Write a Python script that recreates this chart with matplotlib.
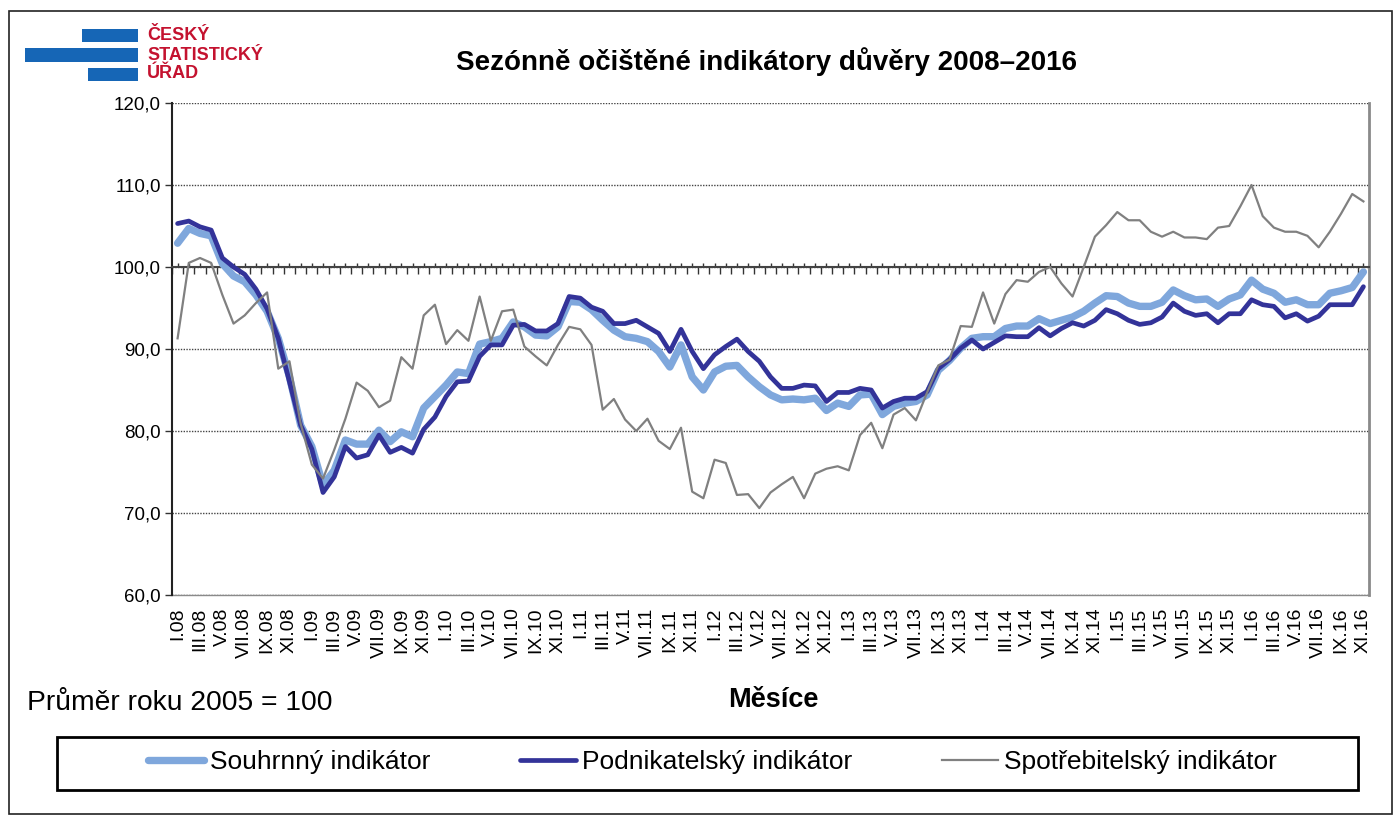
import numpy as np
import matplotlib
matplotlib.use('Agg')
import matplotlib.pyplot as plt
from matplotlib.patches import Rectangle
from matplotlib.ticker import FixedLocator, FuncFormatter

plt.rcParams['font.family'] = ['Liberation Sans', 'DejaVu Sans']

roman = ['I', 'II', 'III', 'IV', 'V', 'VI', 'VII', 'VIII', 'IX', 'X', 'XI', 'XII']
years = ['08', '09', '10', '11', '12', '13', '14', '15', '16']
months = [f"{r}.{y}" for y in years for r in roman][:107]

souhrnny = [102.9, 104.7, 104.1, 103.8, 100.4, 98.9, 98.2, 96.6, 94.6, 91.3,
            86.6, 80.7, 78.1, 73.4, 75.2, 78.9, 78.4, 78.4, 80.1, 78.7,
            79.9, 79.3, 82.8, 84.2, 85.6, 87.2, 87.0, 90.6, 90.9, 91.3,
            93.3, 92.7, 91.7, 91.6, 92.7, 95.8, 95.7, 94.8, 93.5, 92.3,
            91.5, 91.3, 90.9, 89.7, 87.8, 90.5, 86.6, 85.0, 87.2, 87.9,
            88.0, 86.6, 85.4, 84.4, 83.8, 83.9, 83.8, 84.0, 82.5, 83.4,
            83.0, 84.4, 84.5, 82.0, 83.0, 83.4, 83.6, 84.4, 87.4, 88.6,
            90.1, 91.3, 91.5, 91.5, 92.5, 92.8, 92.8, 93.7, 93.1, 93.5,
            93.9, 94.6, 95.6, 96.5, 96.4, 95.6, 95.2, 95.2, 95.7, 97.2,
            96.5, 96.0, 96.1, 95.2, 96.1, 96.6, 98.4, 97.3, 96.8, 95.7,
            96.0, 95.4, 95.4, 96.8, 97.1, 97.5, 99.4]

podnikatelsky = [105.3, 105.6, 104.9, 104.5, 101.1, 100.0, 99.1, 97.3, 94.9, 91.3,
                 86.0, 80.7, 77.8, 72.5, 74.4, 78.1, 76.7, 77.1, 79.5, 77.4,
                 78.0, 77.3, 80.2, 81.7, 84.2, 86.0, 86.1, 89.1, 90.5, 90.5,
                 92.9, 93.0, 92.2, 92.2, 93.1, 96.4, 96.2, 95.1, 94.6, 93.1,
                 93.1, 93.5, 92.7, 91.9, 89.7, 92.4, 89.7, 87.6, 89.3, 90.3,
                 91.2, 89.7, 88.5, 86.6, 85.2, 85.2, 85.6, 85.5, 83.6, 84.7,
                 84.7, 85.2, 85.0, 82.8, 83.6, 84.0, 84.0, 84.8, 87.6, 88.7,
                 90.1, 91.1, 90.0, 90.8, 91.6, 91.5, 91.5, 92.6, 91.6, 92.5,
                 93.2, 92.8, 93.5, 94.8, 94.3, 93.5, 93.0, 93.2, 93.9, 95.6,
                 94.6, 94.1, 94.3, 93.2, 94.3, 94.3, 96.0, 95.4, 95.2, 93.8,
                 94.3, 93.4, 94.0, 95.4, 95.4, 95.4, 97.6]

spotrebitelsky = [91.3, 100.5, 101.1, 100.5, 96.6, 93.1, 94.1, 95.6, 96.9, 87.6,
                  88.5, 80.9, 75.9, 74.2, 77.7, 81.5, 85.9, 84.9, 82.9, 83.7,
                  89.0, 87.6, 94.1, 95.4, 90.6, 92.3, 91.0, 96.4, 91.0, 94.6,
                  94.8, 90.3, 89.1, 88.0, 90.5, 92.7, 92.4, 90.5, 82.6, 83.9,
                  81.4, 80.0, 81.5, 78.8, 77.8, 80.4, 72.6, 71.8, 76.5, 76.1,
                  72.2, 72.3, 70.6, 72.5, 73.5, 74.4, 71.8, 74.8, 75.4, 75.7,
                  75.2, 79.5, 81.0, 77.9, 82.0, 82.8, 81.3, 84.7, 88.0, 88.7,
                  92.8, 92.7, 96.9, 93.1, 96.7, 98.4, 98.2, 99.4, 100.0, 98.0,
                  96.4, 100.0, 103.7, 105.1, 106.7, 105.7, 105.7, 104.3, 103.7, 104.3,
                  103.6, 103.6, 103.4, 104.8, 105.0, 107.4, 110.0, 106.2, 104.8, 104.3,
                  104.3, 103.8, 102.4, 104.3, 106.5, 108.9, 108.0]

series_names = ['Souhrnný indikátor', 'Podnikatelský indikátor', 'Spotřebitelský indikátor']
title = 'Sezónně očištěné indikátory důvěry 2008–2016'
x_title = 'Měsíce'
note = 'Průměr roku 2005 = 100'
logo_lines = ['ČESKÝ', 'STATISTICKÝ', 'ÚŘAD']

W, H = 1396, 818
fig = plt.figure(figsize=(W / 100, H / 100), dpi=100)

def fx(px):
    return px / W

def fy(py):
    return 1 - py / H

# outer frame
fig.add_artist(Rectangle((fx(9), fy(814)), fx(1392) - fx(9), fy(11) - fy(814),
                         transform=fig.transFigure, fill=False, ec='#222222', lw=1.2))

# logo
blue = '#1666B6'
for (x0, x1, y0, y1) in [(82, 138, 29, 42), (25, 138, 48, 62), (88, 138, 68, 81)]:
    fig.add_artist(Rectangle((fx(x0), fy(y1)), fx(x1) - fx(x0), fy(y0) - fy(y1),
                             transform=fig.transFigure, color=blue, lw=0))
for txt, yc in zip(logo_lines, [36, 55, 74]):
    fig.text(fx(147), fy(yc), txt, color='#C4122F', fontsize=13, fontweight='bold',
             ha='left', va='center')

ax = fig.add_axes([fx(172), fy(595), fx(1369) - fx(172), fy(103) - fy(595)])
x = np.arange(len(months))
l1, = ax.plot(x, souhrnny, color='#7FA7DC', lw=5.3, solid_joinstyle='round',
              solid_capstyle='round', zorder=3)
l2, = ax.plot(x, podnikatelsky, color='#333399', lw=3.4, solid_joinstyle='round',
              solid_capstyle='round', zorder=4)
l3, = ax.plot(x, spotrebitelsky, color='#808080', lw=1.6, zorder=5)

ax.set_xlim(-0.5, len(months) - 0.5)
ax.set_ylim(60, 120)
ax.yaxis.set_major_locator(FixedLocator([60, 70, 80, 90, 100, 110, 120]))
ax.yaxis.set_major_formatter(FuncFormatter(lambda v, p: f"{v:.1f}".replace('.', ',')))
ax.tick_params(axis='y', labelsize=13.5, length=5, width=1, color='#333333', pad=3)
ax.yaxis.grid(True, linestyle=(0, (1, 1)), color='#444444', lw=1.0)
ax.set_axisbelow(True)

ax.spines['top'].set_visible(False)
ax.spines['left'].set_color('#222222')
ax.spines['left'].set_linewidth(1.5)
ax.spines['right'].set_color('#8a8a8a')
ax.spines['right'].set_linewidth(2)
ax.spines['bottom'].set_position(('data', 100))
ax.spines['bottom'].set_color('#444444')
ax.spines['bottom'].set_linewidth(1.5)
ax.spines['bottom'].set_zorder(2.5)

ax.xaxis.set_major_locator(FixedLocator(np.arange(-0.5, len(months), 1)))
ax.xaxis.set_minor_locator(FixedLocator(x))
ax.tick_params(axis='x', which='major', direction='out', length=5, width=1,
               color='#333333', labelbottom=False)
ax.tick_params(axis='x', which='minor', direction='in', length=3, width=1,
               color='#333333')

sec = ax.secondary_xaxis('bottom')
sec.set_xticks(x[::2], months[::2])
sec.tick_params(axis='x', length=0, pad=9, labelsize=14, labelrotation=90)
sec.spines['bottom'].set_color('#8a8a8a')
sec.spines['bottom'].set_linewidth(1)

fig.text(fx(766), fy(62), title, fontsize=20, fontweight='bold', ha='center', va='center')
fig.text(fx(773), fy(700), x_title, fontsize=19.5, fontweight='bold', ha='center', va='center')
fig.text(fx(27), fy(703), note, fontsize=20.3, ha='left', va='center')

# legend
fig.add_artist(Rectangle((fx(57), fy(790)), fx(1358) - fx(57), fy(737) - fy(790),
                         transform=fig.transFigure, fill=False, ec='#000000', lw=2))
leg = fig.legend([l1, l2, l3], series_names, loc='center',
                 bbox_to_anchor=(fx(712), fy(762)), ncol=3, frameon=False,
                 fontsize=19, handlelength=2.15, handletextpad=0.2, columnspacing=3.4)

fig.savefig('out.png', dpi=100)
